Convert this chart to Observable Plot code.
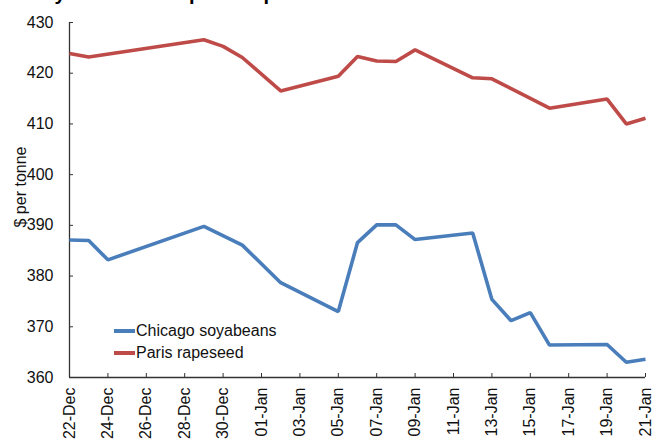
<!DOCTYPE html>
<html>
<head>
<meta charset="utf-8">
<script src="https://cdn.jsdelivr.net/npm/d3@7"></script>
<script src="https://cdn.jsdelivr.net/npm/@observablehq/plot@0.6"></script>
<style>
  html, body { margin: 0; padding: 0; background: #fff; overflow: hidden; }
  #wrap { position: relative; width: 652px; height: 441px; overflow: hidden; font-family: "Liberation Sans", Arial, sans-serif; }
  #title { position: absolute; left: 29px; top: -17px; font-size: 20px; line-height: 20px; font-weight: bold; color: #000; white-space: nowrap; }
  #legend { position: absolute; left: 114px; top: 320px; font-size: 16px; color: #111; }
  #legend .item { display: flex; align-items: center; height: 22px; }
  #legend .sw { display: inline-block; width: 21px; height: 4px; margin-right: 1px; }
</style>
</head>
<body>
<div id="wrap">
  <div id="title">Soyabean and rapeseed prices</div>
  <div id="chart"></div>
  <div id="legend"></div>
</div>
<script>
// Chicago soyabeans, $ per tonne (trading days only)
const soyDates = ["2014-12-22","2014-12-23","2014-12-24","2014-12-29","2014-12-31","2015-01-02","2015-01-05","2015-01-06","2015-01-07","2015-01-08","2015-01-09","2015-01-12","2015-01-13","2015-01-14","2015-01-15","2015-01-16","2015-01-19","2015-01-20","2015-01-21"];
const soyValues = [387.1, 387.0, 383.2, 389.8, 386.1, 378.7, 373.0, 386.6, 390.1, 390.1, 387.2, 388.5, 375.4, 371.2, 372.8, 366.4, 366.5, 363.0, 363.6];

// Paris rapeseed, $ per tonne
const rapeDates = ["2014-12-22","2014-12-23","2014-12-29","2014-12-30","2014-12-31","2015-01-02","2015-01-05","2015-01-06","2015-01-07","2015-01-08","2015-01-09","2015-01-12","2015-01-13","2015-01-16","2015-01-19","2015-01-20","2015-01-21"];
const rapeValues = [423.9, 423.2, 426.6, 425.3, 423.1, 416.5, 419.4, 423.3, 422.4, 422.3, 424.6, 419.1, 418.9, 413.1, 414.9, 410.0, 411.1];

const seriesNames = ["Chicago soyabeans", "Paris rapeseed"];
const seriesColors = ["#4a7ebb", "#be4b48"];

const yTicks = [360, 370, 380, 390, 400, 410, 420, 430];
const xStart = "2014-12-22";
const xEnd = "2015-01-21";
const xTickStep = 2; // days between date labels
const yLabel = "$ per tonne";

const start = new Date(xStart);
const end = new Date(xEnd);
const xTicks = d3.utcDay.range(start, d3.utcDay.offset(end, 1)).filter((d, i) => i % xTickStep === 0);

const rows = [
  ...soyDates.map((d, i) => ({date: new Date(d), value: soyValues[i], series: seriesNames[0]})),
  ...rapeDates.map((d, i) => ({date: new Date(d), value: rapeValues[i], series: seriesNames[1]}))
];

const W = 652, H = 441;
const mL = 69, mR = 7, mT = 22, mB = 64;
const frameW = W - mL - mR, frameH = H - mT - mB;
const axisColor = "#333";

const chart = Plot.plot({
  width: W,
  height: H,
  marginLeft: mL,
  marginRight: mR,
  marginTop: mT,
  marginBottom: mB,
  style: {fontFamily: "'Liberation Sans', Arial, sans-serif", fontSize: "16px", color: "#111", background: "#fff", overflow: "visible"},
  x: {type: "utc", domain: [start, end]},
  y: {domain: [360, 430]},
  color: {domain: seriesNames, range: seriesColors},
  marks: [
    // inward tick marks
    Plot.ruleY(yTicks, {stroke: axisColor, insetRight: frameW - 4}),
    Plot.ruleX(xTicks, {stroke: axisColor, insetTop: frameH - 4}),
    Plot.axisY({ticks: yTicks, tickSize: 0, tickPadding: 16, label: null, fontSize: 16}),
    Plot.axisX({ticks: xTicks, tickFormat: d3.utcFormat("%d-%b"), tickRotate: -90, tickSize: 0, tickPadding: 10, label: null, fontSize: 16}),
    Plot.text([yLabel], {frameAnchor: "left", textAnchor: "middle", rotate: -90, dx: -49, dy: -13, fontSize: 16, fill: "#111"}),
    // axis lines
    Plot.ruleX([start], {stroke: axisColor, strokeWidth: 1.3}),
    Plot.ruleY([360], {stroke: axisColor, strokeWidth: 1.3}),
    Plot.line(rows, {x: "date", y: "value", z: "series", stroke: "series", strokeWidth: 3.6, strokeLinejoin: "miter", strokeLinecap: "butt"})
  ]
});
document.getElementById("chart").appendChild(chart);

const legend = document.getElementById("legend");
seriesNames.forEach((name, i) => {
  const item = document.createElement("div");
  item.className = "item";
  const sw = document.createElement("span");
  sw.className = "sw";
  sw.style.background = seriesColors[i];
  const label = document.createElement("span");
  label.textContent = name;
  item.appendChild(sw);
  item.appendChild(label);
  legend.appendChild(item);
});
</script>
</body>
</html>
